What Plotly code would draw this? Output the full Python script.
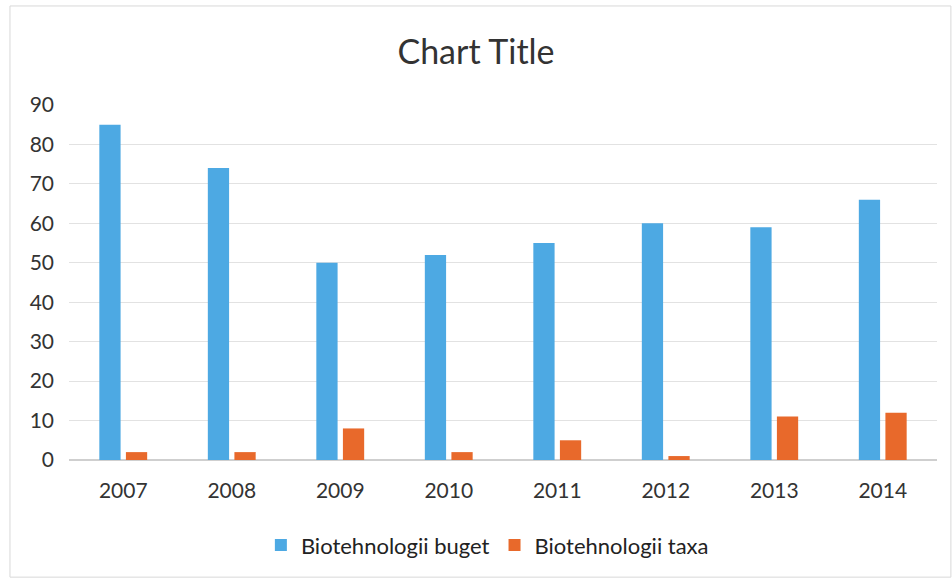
import plotly.graph_objects as go

years = ["2007", "2008", "2009", "2010", "2011", "2012", "2013", "2014"]
buget = [85, 74, 50, 52, 55, 60, 59, 66]
taxa = [2, 2, 8, 2, 5, 1, 11, 12]

font_family = "Lato, Open Sans, sans-serif"

fig = go.Figure()
fig.add_trace(go.Bar(x=years, y=buget, name="Biotehnologii buget",
                     marker=dict(color="#4DA9E3", line=dict(width=0))))
fig.add_trace(go.Bar(x=years, y=taxa, name="Biotehnologii taxa",
                     marker=dict(color="#E8692B", line=dict(width=0))))

fig.update_layout(
    width=952, height=579,
    paper_bgcolor="white", plot_bgcolor="white",
    margin=dict(l=69, r=15, t=105, b=119),
    barmode="group", bargap=0.51, bargroupgap=0.2,
    title=dict(text="Chart Title", x=0.5, xanchor="center", y=0.91, yanchor="middle",
               font=dict(family=font_family, size=34, color="#333333")),
    font=dict(family=font_family, color="#333333"),
    legend=dict(orientation="h", x=0.482, xanchor="center", y=-0.24, yanchor="middle",
                font=dict(size=22, color="#222222"), itemwidth=30),
    showlegend=True,
)
fig.update_yaxes(range=[0, 90], dtick=10, showgrid=True, gridcolor="#E2E2E2",
                 zeroline=True, zerolinecolor="#CFCFCF",
                 tickfont=dict(size=21, color="#333333"), ticks="", ticklabelstandoff=14)
fig.update_xaxes(showgrid=False, showline=False, tickfont=dict(size=21, color="#333333"),
                 ticks="", ticklabelstandoff=16)
# faint border of the chart area
fig.add_shape(type="rect", xref="paper", yref="paper", x0=-0.068, x1=1.016, y0=-0.33, y1=1.279,
              line=dict(color="#D8D8D8", width=1), layer="below")

fig.write_html("out.html", config={"displayModeBar": False},
               post_script="document.body.style.margin='0';")
